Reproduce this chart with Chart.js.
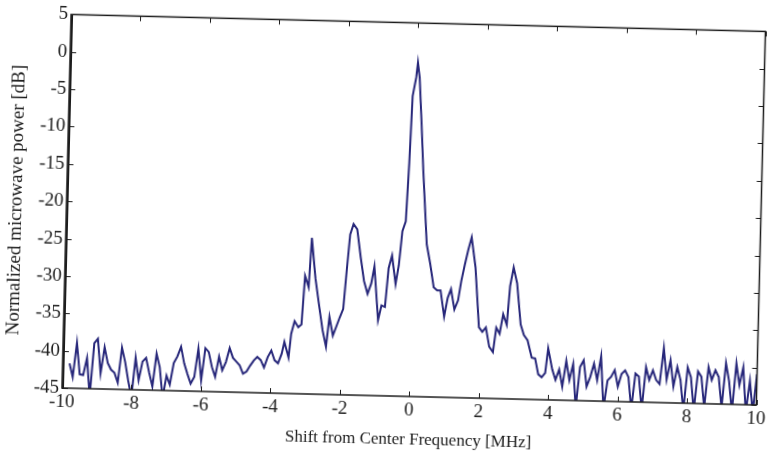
<!DOCTYPE html>
<html>
<head>
<meta charset="utf-8">
<script src="https://cdn.jsdelivr.net/npm/chart.js@4"></script>
<style>
  body { margin: 0; background: #fff; overflow: hidden; }
  #wrap { width: 769px; height: 457px; }
  /* la figura original está escaneada con una ligera inclinación */
  #grafica { transform: rotate(1.4deg); transform-origin: 62px 388px; }
</style>
</head>
<body>
<div id="wrap"><canvas id="grafica" width="769" height="457"></canvas></div>
<script>
// Espectro: desplazamiento [MHz] y potencia normalizada [dB]
const frecuencias = [
  -9.8, -9.7, -9.6, -9.5, -9.4, -9.3, -9.2, -9.1, -9.0, -8.9,
  -8.8, -8.7, -8.6, -8.5, -8.4, -8.3, -8.2, -8.1, -8.0, -7.9,
  -7.8, -7.7, -7.6, -7.5, -7.4, -7.3, -7.2, -7.1, -7.0, -6.9,
  -6.8, -6.7, -6.6, -6.5, -6.4, -6.3, -6.2, -6.1, -6.0, -5.9,
  -5.8, -5.7, -5.6, -5.5, -5.4, -5.3, -5.2, -5.1, -5.0, -4.9,
  -4.8, -4.7, -4.6, -4.5, -4.4, -4.3, -4.2, -4.1, -4.0, -3.9,
  -3.8, -3.7, -3.63, -3.5, -3.44, -3.35, -3.24, -3.15, -3.08, -2.97,
  -2.91, -2.78, -2.66, -2.54, -2.43, -2.35, -2.24, -2.14, -2.05, -1.96,
  -1.88, -1.81, -1.72, -1.61, -1.49, -1.38, -1.27, -1.17, -1.09, -0.95,
  -0.86, -0.76, -0.68, -0.59, -0.47, -0.39, -0.31, -0.22, -0.16, -0.11,
  -0.02, 0.02, 0.08, 0.17, 0.25, 0.40, 0.51, 0.63, 0.73, 0.83,
  0.95, 1.04, 1.13, 1.24, 1.34, 1.42, 1.51, 1.60, 1.69, 1.82,
  1.96, 2.06, 2.16, 2.27, 2.38, 2.46, 2.56, 2.65, 2.76, 2.83,
  2.92, 3.03, 3.16, 3.26, 3.37, 3.5, 3.6, 3.7, 3.8, 3.9,
  3.97, 4.1, 4.2, 4.3, 4.4, 4.5, 4.6, 4.7, 4.8, 4.9,
  5.0, 5.1, 5.2, 5.3, 5.4, 5.5, 5.6, 5.7, 5.8, 5.9,
  6.0, 6.1, 6.2, 6.3, 6.4, 6.5, 6.6, 6.7, 6.8, 6.9,
  7.0, 7.1, 7.2, 7.3, 7.4, 7.5, 7.6, 7.7, 7.8, 7.9,
  8.0, 8.1, 8.2, 8.3, 8.4, 8.5, 8.6, 8.7, 8.8, 8.9,
  9.0, 9.1, 9.2, 9.3, 9.4, 9.5, 9.6, 9.7, 9.8, 9.9,
  10.0
];

const potencia = [
  -41.7, -43.5, -38.9, -43.1, -43.2, -40.9, -46.0, -38.9, -38.3, -42.9,
  -39.4, -41.5, -42.4, -42.8, -44.1, -39.4, -41.3, -43.8, -46.0, -40.7,
  -43.7, -41.2, -40.7, -42.7, -44.5, -40.1, -41.9, -46.0, -43.0, -44.2,
  -41.3, -40.4, -39.1, -41.3, -42.7, -44.0, -43.1, -39.3, -43.5, -39.2,
  -39.7, -41.7, -43.0, -40.3, -42.1, -41.0, -39.1, -40.4, -40.9, -41.4,
  -42.5, -42.2, -41.4, -40.7, -40.2, -40.6, -41.6, -40.2, -39.3, -40.6,
  -41.0, -39.7, -38.1, -40.2, -37.0, -35.3, -36.1, -35.7, -29.2, -30.7,
  -24.1, -29.5, -33.0, -36.4, -38.6, -34.6, -37.1, -35.8, -34.6, -33.5,
  -28.0, -23.5, -22.1, -22.8, -26.6, -29.7, -31.4, -30.0, -27.7, -34.9,
  -32.9, -33.1, -27.9, -26.2, -30.0, -27.5, -22.9, -21.6, -13.7, -4.8,
  -2.3, -0.3, -2.3, -8.7, -14.8, -24.6, -27.1, -30.3, -30.7, -30.7,
  -34.2, -31.7, -30.5, -33.2, -32.0, -29.4, -27.2, -25.2, -23.5, -27.5,
  -35.5, -36.1, -35.5, -38.1, -38.8, -35.5, -36.3, -33.7, -35.1, -29.9,
  -27.4, -29.5, -35.0, -36.4, -37.1, -39.4, -39.5, -41.6, -42.0, -41.4,
  -38.1, -40.9, -42.3, -40.9, -43.2, -39.7, -42.3, -40.1, -46.0, -40.5,
  -39.6, -43.1, -41.8, -40.0, -42.2, -39.0, -46.0, -42.2, -41.7, -40.8,
  -43.0, -41.3, -40.8, -41.7, -46.0, -41.2, -41.6, -46.0, -40.3, -42.0,
  -40.7, -42.0, -42.5, -37.7, -41.9, -39.3, -42.8, -40.2, -41.9, -46.0,
  -40.2, -41.5, -46.0, -40.7, -41.4, -45.5, -40.1, -41.8, -40.5, -41.4,
  -45.5, -39.5, -41.9, -46.0, -39.5, -42.4, -40.0, -46.0, -41.8, -46.0,
  -40.9
];

const ticksX = [-10, -8, -6, -4, -2, 0, 2, 4, 6, 8, 10];
const ticksY = [5, 0, -5, -10, -15, -20, -25, -30, -35, -40, -45];

const tinta = '#1c1c1c';
const fuente = '"Liberation Serif", "DejaVu Serif", serif';

// recuadro y marcas hacia dentro en los cuatro lados
const marcasInternas = {
  id: 'marcasInternas',
  afterDraw(chart) {
    const { ctx, chartArea: a, scales } = chart;
    ctx.save();
    ctx.strokeStyle = tinta;
    ctx.lineWidth = 1.5;
    ctx.strokeRect(a.left, a.top, a.right - a.left, a.bottom - a.top);
    // eje izquierdo algo más grueso, como en el escaneo
    ctx.lineWidth = 2;
    ctx.beginPath();
    ctx.moveTo(a.left + 1, a.top);
    ctx.lineTo(a.left + 1, a.bottom);
    ctx.stroke();
    ctx.lineWidth = 1;
    ctx.beginPath();
    ticksX.forEach(v => {
      const px = Math.round(scales.x.getPixelForValue(v)) + 0.5;
      ctx.moveTo(px, a.bottom); ctx.lineTo(px, a.bottom - 5);
      ctx.moveTo(px, a.top); ctx.lineTo(px, a.top + 5);
    });
    ticksY.forEach(v => {
      const py = Math.round(scales.y.getPixelForValue(v)) + 0.5;
      ctx.moveTo(a.left, py); ctx.lineTo(a.left + 6, py);
      ctx.moveTo(a.right, py); ctx.lineTo(a.right - 5, py);
    });
    ctx.stroke();
    ctx.restore();
  }
};

const ctx = document.getElementById('grafica').getContext('2d');

new Chart(ctx, {
  type: 'line',
  data: {
    datasets: [{
      data: frecuencias.map((f, i) => ({ x: f, y: potencia[i] })),
      borderColor: '#27277a',
      borderWidth: 2,
      pointRadius: 0,
      fill: false,
      tension: 0,
      clip: 0
    }]
  },
  options: {
    responsive: false,
    animation: false,
    layout: { padding: { top: 11, right: 9, left: 0, bottom: 0 } },
    plugins: { legend: { display: false }, tooltip: { enabled: false } },
    scales: {
      x: {
        type: 'linear',
        min: -10, max: 10,
        afterBuildTicks: s => { s.ticks = ticksX.map(v => ({ value: v })); },
        afterFit: s => { s.height = 69; },
        grid: { display: false, drawTicks: false },
        border: { display: false },
        ticks: { color: tinta, font: { family: fuente, size: 19 }, padding: 3, maxRotation: 0 },
        title: {
          display: true,
          text: 'Shift from Center Frequency [MHz]',
          color: tinta,
          font: { family: fuente, size: 17 },
          padding: { top: 0, bottom: 15 }
        }
      },
      y: {
        min: -45, max: 5,
        afterBuildTicks: s => { s.ticks = ticksY.map(v => ({ value: v })); },
        afterFit: s => { s.width = 62; },
        grid: { display: false, drawTicks: false },
        border: { display: false },
        ticks: { color: tinta, font: { family: fuente, size: 19 }, padding: 3 },
        title: {
          display: true,
          text: 'Normalized microwave power [dB]',
          color: tinta,
          font: { family: fuente, size: 19 },
          padding: { top: 1, bottom: 0 }
        }
      }
    }
  },
  plugins: [marcasInternas]
});
</script>
</body>
</html>
